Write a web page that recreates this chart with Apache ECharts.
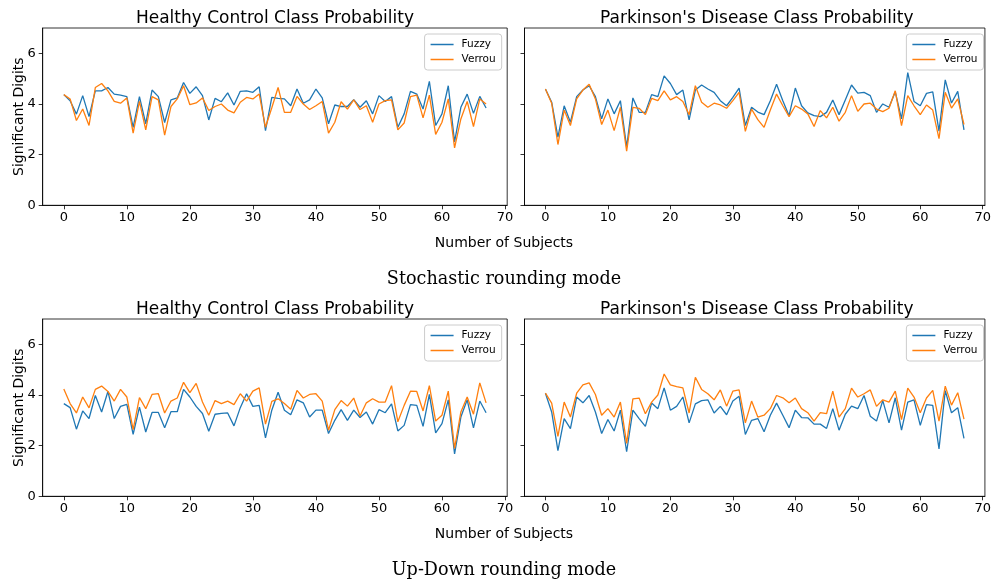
<!DOCTYPE html>
<html><head><meta charset="utf-8">
<script src="https://cdn.jsdelivr.net/npm/echarts@6/dist/echarts.min.js"></script>
<style>html,body{margin:0;padding:0;background:#fff}#c{width:994px;height:579px}</style>
</head><body><div id="c"></div>
<script>
const subjects = [0,1,2,3,4,5,6,7,8,9,10,11,12,13,14,15,16,17,18,19,20,21,22,23,24,25,26,27,28,29,30,31,32,33,34,35,36,37,38,39,40,41,42,43,44,45,46,47,48,49,50,51,52,53,54,55,56,57,58,59,60,61,62,63,64,65,66,67];
const xTicks = [0,10,20,30,40,50,60,70];
const yTicks = [0,2,4,6];
const seriesNames = ['Fuzzy','Verrou'];
const panelTitles = ['Healthy Control Class Probability', "Parkinson's Disease Class Probability"];
const modeTitles = ['Stochastic rounding mode', 'Up-Down rounding mode'];

const stochHCFuzzy = [4.37,4.13,3.6,4.33,3.5,4.52,4.52,4.65,4.39,4.35,4.29,3.08,4.29,3.22,4.55,4.29,3.27,4.16,4.24,4.85,4.42,4.68,4.33,3.37,4.22,4.09,4.44,3.96,4.5,4.52,4.46,4.68,2.95,4.26,4.22,4.2,3.93,4.59,4.03,4.16,4.59,4.24,3.22,3.96,3.9,3.9,4.17,3.87,4.13,3.61,4.33,4.1,4.29,3.08,3.61,4.5,4.39,3.8,4.89,3.15,3.61,4.72,2.5,3.87,4.39,3.63,4.3,3.84];
const stochHCVerrou = [4.37,4.2,3.35,3.8,3.15,4.65,4.81,4.52,4.1,4.03,4.24,2.85,4.1,2.98,4.29,4.16,2.77,3.9,4.2,4.72,3.97,4.04,4.24,3.74,3.9,4.0,3.76,3.65,4.07,4.26,4.2,4.39,3.08,3.85,4.65,3.67,3.67,4.3,4.0,3.78,3.93,4.1,2.85,3.28,4.09,3.8,4.16,3.78,3.93,3.28,4.0,4.13,4.16,2.98,3.25,4.29,4.35,3.45,4.35,2.8,3.28,4.2,2.27,3.41,4.1,3.11,4.2,4.0];
const stochPDFuzzy = [4.59,4.07,2.69,3.93,3.28,4.29,4.55,4.72,4.29,3.41,4.2,3.61,4.13,2.3,4.24,3.67,3.67,4.37,4.29,5.11,4.81,4.37,4.55,3.37,4.55,4.75,4.59,4.46,4.13,3.93,4.26,4.63,3.15,3.87,3.68,3.58,4.13,4.78,4.13,3.54,4.63,3.93,3.65,3.54,3.5,3.67,4.16,3.58,4.16,4.75,4.43,4.46,4.33,3.67,4.0,3.87,4.48,3.41,5.24,4.1,3.93,4.42,4.48,2.93,4.95,4.04,4.5,2.98];
const stochPDVerrou = [4.59,4.03,2.4,3.76,3.15,4.2,4.55,4.78,4.2,3.19,3.76,2.95,3.87,2.14,3.87,3.83,3.58,4.22,4.13,4.52,4.16,4.29,4.1,3.58,4.72,4.07,3.87,4.03,3.96,3.83,4.13,4.46,2.92,3.8,3.38,3.08,3.76,4.39,3.93,3.5,3.93,3.8,3.61,3.11,3.74,3.45,3.87,3.32,3.67,4.33,3.71,4.0,4.03,3.8,3.7,3.83,4.52,3.15,4.33,3.93,3.58,3.96,3.76,2.63,4.46,3.84,4.2,3.19];
const udHCFuzzy = [3.66,3.5,2.65,3.37,3.07,3.98,3.33,4.14,3.07,3.55,3.63,2.45,3.52,2.54,3.31,3.31,2.71,3.34,3.34,4.22,3.92,3.55,3.27,2.57,3.24,3.27,3.29,2.78,3.5,4.05,3.55,3.59,2.31,3.4,4.11,3.4,3.22,3.81,3.69,3.13,3.4,3.4,2.48,3.0,3.42,3.0,3.4,3.11,3.33,2.85,3.42,3.3,3.65,2.58,2.8,3.62,3.59,2.76,4.02,2.5,2.87,3.81,1.67,3.13,3.81,2.7,3.76,3.3];
const udHCVerrou = [4.24,3.66,3.29,3.92,3.49,4.22,4.35,4.14,3.76,4.22,3.92,2.63,3.9,3.46,4.02,4.05,3.29,3.76,3.88,4.5,4.09,4.46,3.72,3.2,3.78,3.66,3.76,3.62,4.05,3.76,4.15,4.28,2.85,3.75,3.85,3.66,3.44,4.18,3.88,4.02,4.05,3.76,2.61,3.42,3.78,3.56,3.88,3.17,3.69,3.85,3.72,3.72,4.37,2.94,3.59,4.15,4.14,3.37,4.37,2.97,3.2,4.15,1.89,3.33,3.92,3.24,4.48,3.69];
const udPDFuzzy = [4.07,3.33,1.8,3.07,2.67,3.92,3.69,3.98,3.33,2.48,3.03,2.58,3.4,1.76,3.4,3.07,2.76,3.68,3.46,4.28,3.4,3.55,3.92,2.9,3.65,3.78,3.81,3.29,3.55,3.22,3.76,3.95,2.44,3.0,3.07,2.55,3.2,3.68,3.2,2.71,3.4,3.11,3.1,2.85,2.85,2.68,3.46,2.61,3.24,3.56,3.46,3.98,3.16,2.97,3.78,2.9,3.89,2.61,3.72,3.81,2.8,3.62,3.59,1.87,4.17,3.3,3.5,2.29];
const udPDVerrou = [4.07,3.68,2.37,3.72,3.13,4.07,4.4,4.48,4.02,3.2,3.46,3.13,3.72,2.09,3.85,3.88,3.26,3.72,4.0,4.83,4.4,4.33,4.28,3.29,4.7,4.22,4.05,3.81,4.2,3.56,4.15,4.2,2.9,3.76,3.13,3.2,3.46,3.98,3.89,3.69,3.88,3.46,3.3,2.97,3.3,3.26,4.15,3.13,3.46,4.27,3.92,4.05,4.2,3.55,3.81,3.72,4.15,3.03,4.27,3.92,3.3,3.88,4.18,2.97,4.35,3.6,4.09,3.05];

const panels = [
  [stochHCFuzzy, stochHCVerrou],
  [stochPDFuzzy, stochPDVerrou],
  [udHCFuzzy, udHCVerrou],
  [udPDFuzzy, udPDVerrou]
];
const colors = ['#1f77b4', '#ff7f0e'];

const gridBoxes = [
  {left: 42.7, top: 28, width: 464.5, height: 177.3},
  {left: 524.5, top: 28, width: 464.5, height: 177.3},
  {left: 42.7, top: 319, width: 464.5, height: 177.3},
  {left: 524.5, top: 319, width: 464.5, height: 177.3}
];

const FONT = 'DejaVu Sans';
const chart = echarts.init(document.getElementById('c'), null, {renderer: 'canvas'});

const grids = gridBoxes.map(g => Object.assign({show: true, borderColor: '#000', borderWidth: 0.8, backgroundColor: 'transparent', containLabel: false}, g));

const xAxes = gridBoxes.map((g, i) => ({
  gridIndex: i, type: 'value', min: -3.35, max: 70.35,
  axisLine: {show: true, onZero: false, lineStyle: {color: '#000', width: 0.8}},
  axisTick: {show: true, customValues: xTicks, length: 4, lineStyle: {color: '#000', width: 0.8}},
  axisLabel: {show: true, customValues: xTicks, color: '#000', fontSize: 13, fontFamily: FONT, margin: 6},
  splitLine: {show: false}
}));

const yAxes = gridBoxes.map((g, i) => ({
  gridIndex: i, type: 'value', min: 0, max: 7,
  axisLine: {show: true, onZero: false, lineStyle: {color: '#000', width: 0.8}},
  axisTick: {show: true, customValues: yTicks, length: 4, lineStyle: {color: '#000', width: 0.8}},
  axisLabel: {show: i % 2 === 0, customValues: yTicks, color: '#000', fontSize: 13, fontFamily: FONT, margin: 7},
  splitLine: {show: false}
}));

const series = [];
panels.forEach((p, gi) => {
  p.forEach((vals, si) => {
    series.push({
      name: seriesNames[si], type: 'line', xAxisIndex: gi, yAxisIndex: gi,
      data: subjects.map((s, k) => [s, vals[k]]),
      showSymbol: false, symbol: 'none',
      lineStyle: {color: colors[si], width: 1.3},
      itemStyle: {color: colors[si]},
      emphasis: {disabled: true}, z: 2 + si
    });
  });
});

const legends = gridBoxes.map(g => ({
  data: seriesNames.map(n => ({name: n, icon: 'rect'})),
  orient: 'vertical',
  right: 994 - (g.left + g.width) + 5.5,
  top: g.top + 6,
  itemWidth: 23, itemHeight: 1.5, itemGap: 4,
  textStyle: {fontSize: 10.5, fontFamily: FONT, color: '#000', padding: [0,0,0,3]},
  borderColor: '#cccccc', borderWidth: 1, borderRadius: 3,
  backgroundColor: 'rgba(255,255,255,0.8)',
  padding: [5, 6, 5, 6],
  selectedMode: false
}));

const texts = [];
gridBoxes.forEach((g, i) => {
  texts.push({type: 'text', x: g.left + g.width / 2, y: g.top - 9.5,
    style: {text: panelTitles[i % 2], fontSize: 17, fontFamily: FONT, fill: '#000', align: 'center', verticalAlign: 'middle'}});
  if (i % 2 === 0) {
    texts.push({type: 'text', x: 19, y: g.top + g.height / 2, rotation: Math.PI / 2,
      style: {text: 'Significant Digits', fontSize: 14, fontFamily: FONT, fill: '#000', align: 'center', verticalAlign: 'middle'}});
    const row = i / 2;
    texts.push({type: 'text', x: 504, y: g.top + g.height + 38,
      style: {text: 'Number of Subjects', fontSize: 14, fontFamily: FONT, fill: '#000', align: 'center', verticalAlign: 'middle'}});
    texts.push({type: 'text', x: 504, y: g.top + g.height + 74.5,
      style: {text: modeTitles[row], fontSize: 17.6, fontFamily: 'DejaVu Serif', fill: '#000', align: 'center', verticalAlign: 'middle'}});
  }
});

chart.setOption({
  animation: false,
  backgroundColor: '#fff',
  grid: grids,
  xAxis: xAxes,
  yAxis: yAxes,
  legend: legends,
  series: series,
  graphic: texts
});
</script>
</body></html>
